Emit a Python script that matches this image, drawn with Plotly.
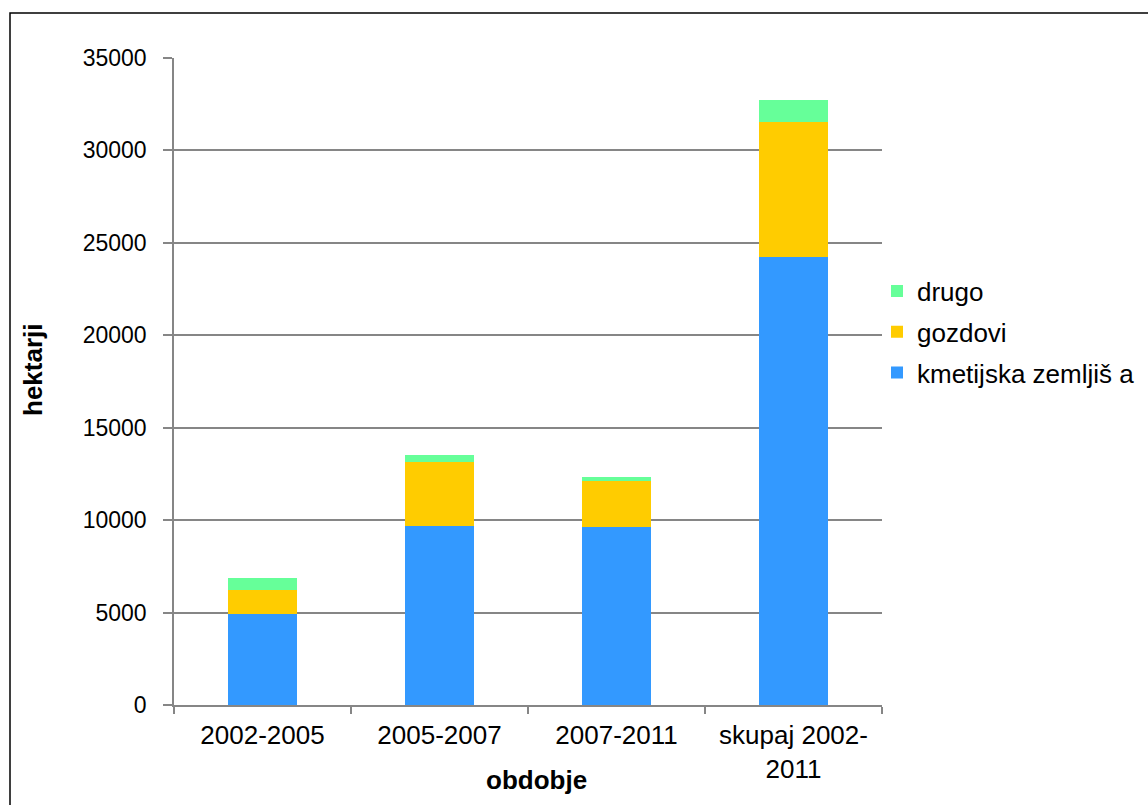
import plotly.graph_objects as go

# Hectares by period, stacked by land type
obdobja = ["2002-2005", "2005-2007", "2007-2011", "skupaj 2002-<br>2011"]
kmetijska = [4900, 9700, 9650, 24250]
gozdovi = [1320, 3460, 2480, 7300]
drugo = [630, 360, 220, 1180]

x_naslov = "obdobje"
y_naslov = "hektarji"

FONT = "Liberation Sans, Arial, sans-serif"
GRID = "#868686"

W, H = 1148, 805
L, R, T, B = 174, 266, 58, 100
pw, ph = W - L - R, H - T - B

fig = go.Figure()
series = [
    ("kmetijska zemljiš a", kmetijska, "#3399FF", 3),
    ("gozdovi", gozdovi, "#FFCC00", 2),
    ("drugo", drugo, "#66FF99", 1),
]
for name, vals, col, rank in series:
    fig.add_trace(go.Bar(x=obdobja, y=vals, name=name, legendgroup=name,
                         legendrank=rank,
                         marker=dict(color=col, line=dict(width=0))))

fig.update_layout(
    width=W, height=H,
    barmode="stack", bargap=0.605,
    paper_bgcolor="white", plot_bgcolor="white",
    margin=dict(l=L, r=R, t=T, b=B, pad=0, autoexpand=False),
    font=dict(family=FONT, size=26, color="black"),
    showlegend=True,
    legend=dict(
        xref="container", yref="container",
        x=877 / W, xanchor="left",
        y=(H - 332) / H, yanchor="middle",
        traceorder="grouped", tracegroupgap=4,
        font=dict(size=26, family=FONT),
        itemwidth=30, bgcolor="rgba(0,0,0,0)",
    ),
    xaxis=dict(
        automargin=False,
        showline=True, linecolor=GRID, linewidth=1.5,
        ticks="outside", tickson="boundaries", ticklen=7, tickcolor=GRID, tickwidth=1.5,
        tickfont=dict(size=26, family=FONT), ticklabelstandoff=6,
        showgrid=False,
    ),
    yaxis=dict(
        automargin=False,
        range=[0, 35000], dtick=5000, tickformat="d",
        showline=True, linecolor=GRID, linewidth=1.5,
        ticks="outside", ticklen=9, tickcolor=GRID, tickwidth=1.5,
        tickfont=dict(size=23, family=FONT), ticklabelstandoff=12,
        showgrid=True, gridcolor=GRID, gridwidth=1.5,
        zeroline=False,
    ),
)

# Axis titles
fig.add_annotation(
    text=f"<b>{x_naslov}</b>", xref="paper", yref="paper",
    x=(536 - L) / pw, y=(705 - 780) / ph, xanchor="center", yanchor="middle",
    showarrow=False, font=dict(size=26, family=FONT, color="black"),
)
fig.add_annotation(
    text=f"<b>{y_naslov}</b>", xref="paper", yref="paper", textangle=-90,
    x=(33 - L) / pw, y=(705 - 370) / ph, xanchor="center", yanchor="middle",
    showarrow=False, font=dict(size=26, family=FONT, color="black"),
)

# Outer frame around the chart area (right and bottom sides run off the page)
fig.add_shape(
    type="rect", xref="paper", yref="paper",
    x0=(10 - L) / pw, x1=(1400 - L) / pw,
    y0=(705 - 1000) / ph, y1=(705 - 13) / ph,
    line=dict(color="black", width=1.5), fillcolor="rgba(0,0,0,0)", layer="below",
)

fig.write_html("out.html")
